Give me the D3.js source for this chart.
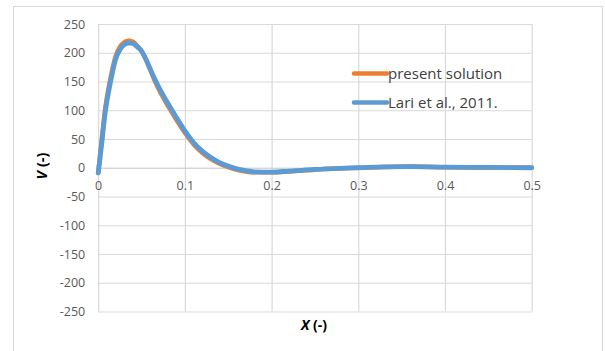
<!DOCTYPE html>
<html>
<head>
<meta charset="utf-8">
<script src="https://cdn.jsdelivr.net/npm/d3@7"></script>
<style>
  html, body { margin: 0; padding: 0; background: #fff; }
  svg { display: block; }
  text { font-family: "Open Sans", "Liberation Sans", sans-serif; }
</style>
</head>
<body>
<svg id="chart" width="605" height="351"></svg>
<script>
// Dimensionless position X along the domain
const xValues = [0, 0.002, 0.005, 0.008, 0.01, 0.015, 0.02, 0.025, 0.03, 0.035, 0.04, 0.045, 0.05,
  0.055, 0.06, 0.065, 0.07, 0.08, 0.09, 0.1, 0.11, 0.12, 0.13, 0.14, 0.15, 0.16, 0.17, 0.18, 0.2,
  0.22, 0.25, 0.28, 0.3, 0.33, 0.36, 0.4, 0.45, 0.5];

// V profile from the present solution
const presentSolution = [-9, 20, 62, 102, 122, 162, 193, 210, 218, 221, 219, 212, 203,
  188, 170, 152, 136, 109, 84, 61, 41, 26, 15, 7, 1, -3.5, -6.5, -8, -8,
  -6.5, -3.5, -1, 0, 1.5, 2, 1, 0.5, 0];

// V profile reported by Lari et al., 2011
const lariEtAl = [-9, 15, 55, 95, 115, 155, 188, 205, 214, 217, 216, 210, 203,
  189, 172, 155, 140, 113, 88, 64, 44, 29, 18, 9, 3, -2, -5, -7, -7.5,
  -6, -3, -1, 0, 1.5, 2, 1, 0.5, 0];

const seriesNames = ["present solution", "Lari et al., 2011."];
const seriesColors = ["#ED7D31", "#5B9BD5"];

const xTicks = [0, 0.1, 0.2, 0.3, 0.4, 0.5];
const yTicks = [-250, -200, -150, -100, -50, 0, 50, 100, 150, 200, 250];

const svg = d3.select("#chart");

// chart frame
svg.append("rect")
  .attr("x", 13.5).attr("y", 6.5).attr("width", 589).attr("height", 350)
  .attr("fill", "#fff").attr("stroke", "#d9d9d9").attr("stroke-width", 1);

const plot = { left: 98.2, right: 531.7, top: 24, bottom: 311.5 };

const x = d3.scaleLinear().domain([0, 0.5]).range([plot.left, plot.right]);
const y = d3.scaleLinear().domain([-250, 250]).range([plot.bottom, plot.top]);

// plain hyphen for negative numbers
const intFmt = d => String(d);

// horizontal gridlines
svg.append("g")
  .attr("transform", `translate(${plot.left},0)`)
  .call(d3.axisLeft(y).tickValues(yTicks).tickSize(-(plot.right - plot.left)).tickFormat(""))
  .call(g => g.select(".domain").remove())
  .call(g => g.selectAll("line").attr("stroke", "#d9d9d9").attr("stroke-width", 1.2));

// vertical gridlines
svg.append("g")
  .attr("transform", `translate(0,${plot.bottom})`)
  .call(d3.axisBottom(x).tickValues(xTicks).tickSize(-(plot.bottom - plot.top)).tickFormat(""))
  .call(g => g.select(".domain").remove())
  .call(g => g.selectAll("line").attr("stroke", "#d9d9d9").attr("stroke-width", 1.2));

// y tick labels
svg.append("g")
  .attr("transform", `translate(${plot.left},0)`)
  .call(d3.axisLeft(y).tickValues(yTicks).tickSize(0).tickPadding(13).tickFormat(intFmt))
  .call(g => g.select(".domain").remove())
  .call(g => g.selectAll("text")
    .attr("fill", "#595959").style("font-size", "12.5px")
    .style("font-family", '"Open Sans", sans-serif'));

// x axis through V = 0 with its labels underneath
svg.append("g")
  .attr("transform", `translate(0,${y(0)})`)
  .call(d3.axisBottom(x).tickValues(xTicks).tickSize(0).tickPadding(13)
    .tickFormat(d => d === 0 ? "0" : d3.format(".1f")(d)))
  .call(g => g.select(".domain").attr("stroke", "#d0d0d0").attr("stroke-width", 1.2))
  .call(g => g.selectAll("text")
    .attr("fill", "#595959").style("font-size", "12.5px")
    .style("font-family", '"Open Sans", sans-serif'));

// data lines
const line = d3.line()
  .x((d, i) => x(xValues[i]))
  .y(d => y(d))
  .curve(d3.curveMonotoneX);

[presentSolution, lariEtAl].forEach((vals, k) => {
  svg.append("path")
    .datum(vals)
    .attr("fill", "none")
    .attr("stroke", seriesColors[k])
    .attr("stroke-width", k === 0 ? 4.5 : 4.8)
    .attr("stroke-linecap", "round")
    .attr("stroke-linejoin", "round")
    .attr("d", line);
});

// legend
const legend = svg.append("g");
seriesNames.forEach((name, k) => {
  const ly = 73.5 + k * 29;
  legend.append("line")
    .attr("x1", 354).attr("x2", 387).attr("y1", ly).attr("y2", ly)
    .attr("stroke", seriesColors[k]).attr("stroke-width", 4.5)
    .attr("stroke-linecap", "round");
  legend.append("text")
    .attr("x", 388).attr("y", ly).attr("dy", "0.35em")
    .attr("fill", "#404040").style("font-size", "15px")
    .text(name);
});

// axis titles
const xTitle = svg.append("text")
  .attr("x", 314).attr("y", 330).attr("text-anchor", "middle")
  .attr("fill", "#000").style("font-size", "14px");
xTitle.append("tspan").attr("font-weight", "bold").attr("font-style", "italic").text("X");
xTitle.append("tspan").attr("font-weight", "bold").text(" (-)");

const yTitle = svg.append("text")
  .attr("transform", "translate(47,166) rotate(-90)")
  .attr("text-anchor", "middle")
  .attr("fill", "#000").style("font-size", "14.5px");
yTitle.append("tspan").attr("font-weight", "bold").attr("font-style", "italic").text("V");
yTitle.append("tspan").attr("font-weight", "bold").text(" (-)");
</script>
</body>
</html>
